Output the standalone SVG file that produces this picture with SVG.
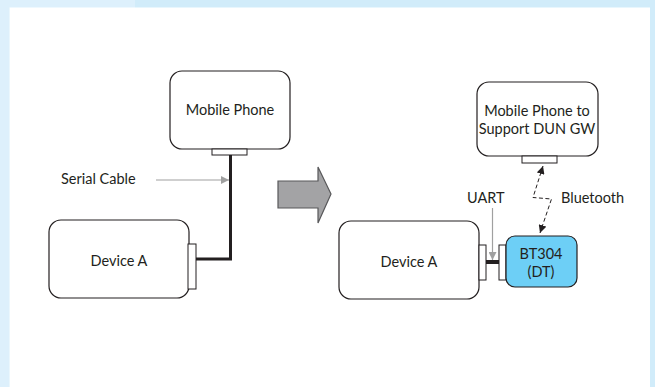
<svg xmlns="http://www.w3.org/2000/svg" width="655" height="387" viewBox="0 0 655 387">
<style>
.box{fill:#fff;stroke:#231f20;stroke-width:1.2}
.pad{fill:#fff;stroke:#231f20;stroke-width:1}
.t{font-family:Lato,"Open Sans","Liberation Sans",sans-serif;font-size:14.5px;fill:#231f20;text-anchor:middle}
.tl{font-family:Lato,"Open Sans","Liberation Sans",sans-serif;font-size:14.5px;fill:#231f20}
.gray{stroke:#a0a0a0;stroke-width:1.2;fill:none}
.cable{stroke:#231f20;stroke-width:3;fill:none}
.bt{stroke:#231f20;stroke-width:1;fill:none;stroke-dasharray:4 2.5}
</style>
<defs>
<marker id="ga" viewBox="0 0 10 10" refX="10" refY="5" markerWidth="8" markerHeight="8" markerUnits="userSpaceOnUse" orient="auto"><path d="M0,0L10,5L0,10z" fill="#a0a0a0"/></marker>
<marker id="ka" viewBox="0 0 10 10" refX="10" refY="5" markerWidth="8" markerHeight="8" markerUnits="userSpaceOnUse" orient="auto-start-reverse"><path d="M0,0L10,5L0,10z" fill="#231f20"/></marker>
</defs>
<rect x="0" y="0" width="655" height="387" fill="#d1ecfa"/>
<rect x="0" y="0" width="135" height="8" fill="#ddf0fc"/>
<rect x="0" y="0" width="9.5" height="387" fill="#ddf0fc"/>
<rect x="9.5" y="7.5" width="640.5" height="380" fill="#fff"/>

<g id="connectors">
<polyline class="cable" points="230.5,155 230.5,259 196,259"/>
<line class="gray" x1="156" y1="180" x2="229" y2="180" marker-end="url(#ga)"/>
<line class="gray" x1="492.5" y1="208" x2="492.5" y2="260" marker-end="url(#ga)"/>
<line x1="486" y1="262" x2="499" y2="262" stroke="#231f20" stroke-width="4"/>
<polyline class="bt" points="543,166 533,197.5 551.5,199 540,233" marker-start="url(#ka)" marker-end="url(#ka)"/>
<path d="M278,181 H318 V167 L331,194 L318,223 V208 H278 Z" fill="#a3a3a5" stroke="#58585a" stroke-width="1.2"/>
</g>

<g id="mobile-phone">
<rect class="box" x="170" y="71" width="120" height="78" rx="12"/>
<rect class="pad" x="212" y="149" width="35" height="6"/>
<text class="t" x="230" y="115">Mobile Phone</text>
</g>

<g id="device-a-left">
<rect class="box" x="49" y="220" width="140" height="78" rx="12"/>
<rect class="pad" x="188" y="244" width="8" height="45"/>
<text class="t" x="119" y="266">Device A</text>
</g>

<g id="serial-cable-label">
<text class="tl" x="61" y="184">Serial Cable</text>
</g>

<g id="mobile-phone-dun">
<rect class="box" x="477" y="82" width="121" height="74" rx="12"/>
<rect class="pad" x="522" y="156" width="35" height="7"/>
<text class="t" x="537" y="116">Mobile Phone to</text>
<text class="t" x="537" y="133.5">Support DUN GW</text>
</g>

<g id="device-a-right">
<rect class="box" x="339" y="221" width="140" height="78" rx="12"/>
<rect class="pad" x="479" y="245" width="7" height="35"/>
<text class="t" x="409" y="267">Device A</text>
</g>

<g id="bt304">
<rect class="pad" x="499" y="245" width="7" height="35"/>
<rect x="506" y="236" width="71" height="51" rx="9" fill="#6dcff6" stroke="#231f20" stroke-width="1.2"/>
<text class="t" x="541" y="259">BT304</text>
<text class="t" x="541" y="276.5">(DT)</text>
</g>

<g id="labels">
<text class="tl" x="467" y="203">UART</text>
<text class="tl" x="561" y="203">Bluetooth</text>
</g>
</svg>
